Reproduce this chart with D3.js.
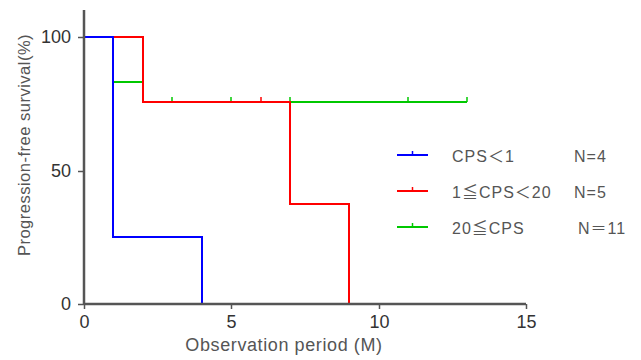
<!DOCTYPE html>
<html>
<head>
<meta charset="utf-8">
<script src="https://cdn.jsdelivr.net/npm/d3@7"></script>
<style>
  body { margin: 0; background: #fff; }
  text { font-family: "Liberation Sans", Arial, "Noto Sans CJK JP", sans-serif; }
</style>
</head>
<body>
<div id="chart"></div>
<script>
// Kaplan-Meier steps: [time, survival]
const blueSteps = [[0, 100], [1, 100], [1, 25], [4, 25], [4, 0]];
const blueCensor = [];
const greenSteps = [[0, 100], [1, 100], [1, 83.3], [2, 83.3], [2, 75.5], [13, 75.5]];
const greenCensor = [3, 5, 7, 11, 13];
const redSteps = [[0, 100], [2, 100], [2, 75.5], [7, 75.5], [7, 37.5], [9, 37.5], [9, 0]];
const redCensor = [6];

const xTicks = [0, 5, 10, 15];
const yTicks = [0, 50, 100];

const legendLabels = ['CPS\uFF1C1', '1\u2266CPS\uFF1C20', '20\u2266CPS'];
const legendN = ['N=4', 'N=5', 'N\uFF1D11'];
const colors = ['#0000ff', '#ff0000', '#00c800'];

const width = 641, height = 360;
const margin = { top: 10, right: 115, bottom: 56, left: 84 };

const svg = d3.select('#chart')
    .append('svg')
    .attr('width', width)
    .attr('height', height);

const x = d3.scaleLinear().domain([0, 15]).rangeRound([margin.left, 526]);
const y = d3.scaleLinear().domain([0, 100]).rangeRound([304, 37]);

const line = d3.line().x(d => x(d[0])).y(d => y(d[1]));

function valueAt(steps, t) {
    let v = steps[0][1];
    steps.forEach(s => { if (s[0] <= t) v = s[1]; });
    return v;
}

function drawCurve(steps, censor, color) {
    svg.append('path')
        .datum(steps)
        .attr('fill', 'none')
        .attr('stroke', color)
        .attr('stroke-width', 2)
        .attr('d', line);
    svg.selectAll(null)
        .data(censor)
        .enter()
        .append('line')
        .attr('x1', d => x(d)).attr('x2', d => x(d))
        .attr('y1', d => y(valueAt(steps, d)))
        .attr('y2', d => y(valueAt(steps, d)) - 5)
        .attr('stroke', color)
        .attr('stroke-width', 1.5);
}

drawCurve(greenSteps, greenCensor, colors[2]);
drawCurve(redSteps, redCensor, colors[1]);
drawCurve(blueSteps, blueCensor, colors[0]);

// axes
const axisColor = '#555';
const xAxis = svg.append('g')
    .attr('transform', `translate(0,${y(0)})`)
    .call(d3.axisBottom(x).tickValues(xTicks).tickSize(5).tickPadding(13));
const yAxis = svg.append('g')
    .attr('transform', `translate(${margin.left},0)`)
    .call(d3.axisLeft(y).tickValues(yTicks).tickSize(6).tickPadding(7));

[xAxis, yAxis].forEach(g => {
    g.select('.domain').remove();
    g.selectAll('line').attr('stroke', axisColor).attr('stroke-width', 1.5);
    g.selectAll('text')
        .attr('fill', '#333')
        .style('font-size', '18px')
        .style('font-family', '"Liberation Sans", Arial, sans-serif');
});
xAxis.selectAll('text').attr('dy', '0.35em');

svg.append('line')
    .attr('x1', x(0)).attr('x2', x(15))
    .attr('y1', y(0)).attr('y2', y(0))
    .attr('stroke', axisColor).attr('stroke-width', 2.5);
svg.append('line')
    .attr('x1', x(0)).attr('x2', x(0))
    .attr('y1', y(0) + 1).attr('y2', margin.top)
    .attr('stroke', axisColor).attr('stroke-width', 2.5);

// axis titles
svg.append('text')
    .attr('x', 284)
    .attr('y', 351)
    .attr('text-anchor', 'middle')
    .attr('fill', '#555')
    .style('font-size', '18px')
    .style('letter-spacing', '0.6px')
    .text('Observation period (M)');

svg.append('text')
    .attr('transform', 'translate(30,145) rotate(-90)')
    .attr('text-anchor', 'middle')
    .attr('fill', '#555')
    .style('font-size', '16.5px')
    .style('letter-spacing', '0.5px')
    .text('Progression-free survival(%)');

// legend
const nX = [574, 574, 578];
const legend = svg.append('g');
legendLabels.forEach((lab, i) => {
    const ly = 155 + i * 36;
    legend.append('line')
        .attr('x1', 397).attr('x2', 428)
        .attr('y1', ly).attr('y2', ly)
        .attr('stroke', colors[i]).attr('stroke-width', 2);
    legend.append('line')
        .attr('x1', 412.5).attr('x2', 412.5)
        .attr('y1', ly).attr('y2', ly - 4)
        .attr('stroke', colors[i]).attr('stroke-width', 1.5);
    legend.append('text')
        .attr('x', 452).attr('y', ly + 7)
        .attr('fill', '#555')
        .style('font-size', '16px')
        .style('letter-spacing', '1px')
        .text(lab);
    legend.append('text')
        .attr('x', nX[i]).attr('y', ly + 7)
        .attr('fill', '#555')
        .style('font-size', '16px')
        .style('letter-spacing', '1px')
        .text(legendN[i]);
});
</script>
</body>
</html>
